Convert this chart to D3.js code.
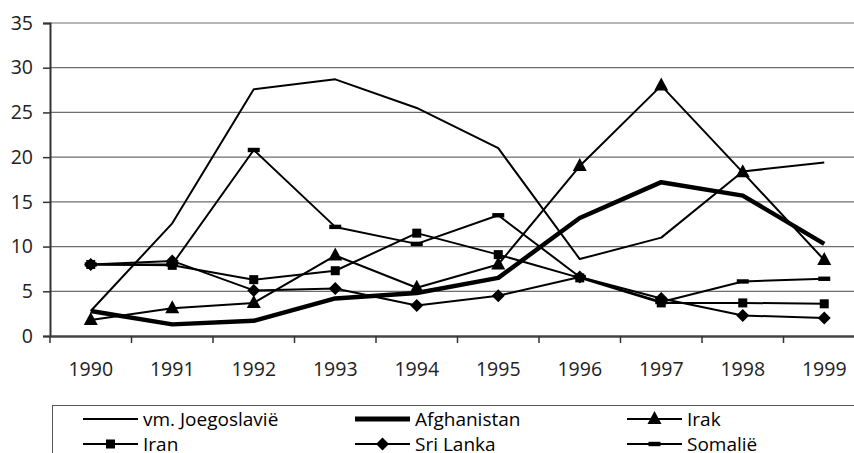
<!DOCTYPE html>
<html><head><meta charset="utf-8">
<script src="https://cdn.jsdelivr.net/npm/d3@7"></script>
<style>body{margin:0;background:#fff}svg{display:block}</style>
</head><body>
<svg id="c" width="854" height="453"></svg>
<script>
const years = ["1990","1991","1992","1993","1994","1995","1996","1997","1998","1999"];
const joegoslavie = [2.8, 12.6, 27.6, 28.7, 25.5, 21.0, 8.6, 11.0, 18.4, 19.4];
const afghanistan = [2.8, 1.3, 1.7, 4.2, 4.8, 6.5, 13.2, 17.2, 15.7, 10.3];
const irak = [1.8, 3.1, 3.7, 9.0, 5.4, 8.0, 19.0, 28.0, 18.3, 8.5];
const iran = [8.0, 7.9, 6.3, 7.3, 11.5, 9.1, 6.5, 3.7, 3.7, 3.6];
const sriLanka = [8.0, 8.4, 5.1, 5.3, 3.4, 4.5, 6.6, 4.2, 2.3, 2.0];
const somalie = [8.0, 8.0, 20.8, 12.2, 10.3, 13.5, 6.6, 3.8, 6.1, 6.4];
const yTicks = [0, 5, 10, 15, 20, 25, 30, 35];
const seriesNames = ["vm. Joegoslavië", "Afghanistan", "Irak", "Iran", "Sri Lanka", "Somalië"];

const series = [
  {name: seriesNames[0], values: joegoslavie, width: 2, marker: "none"},
  {name: seriesNames[1], values: afghanistan, width: 4.5, marker: "none"},
  {name: seriesNames[2], values: irak, width: 2, marker: "triangle"},
  {name: seriesNames[3], values: iran, width: 2, marker: "square"},
  {name: seriesNames[4], values: sriLanka, width: 2, marker: "diamond"},
  {name: seriesNames[5], values: somalie, width: 2, marker: "dash"}
];

const FONT = "'Open Sans', 'DejaVu Sans', sans-serif";
const svg = d3.select("#c");
const x = d3.scaleBand().domain(years).range([50, 865]).padding(0);
const y = d3.scaleLinear().domain([0, 35]).range([336, 23]);
const cx = d => x(d) + x.bandwidth() / 2;

// gridlines
svg.append("g").selectAll("line").data(yTicks.filter(t => t > 0)).join("line")
  .attr("x1", 50).attr("x2", 865).attr("y1", d => y(d)).attr("y2", d => y(d))
  .attr("stroke", "#6e6e6e").attr("stroke-width", 1.2);

// y axis
const yAxis = svg.append("g").attr("transform", "translate(50,0)")
  .call(d3.axisLeft(y).tickValues(yTicks).tickSize(7).tickPadding(10));
yAxis.select(".domain").attr("stroke", "#333").attr("stroke-width", 2);
yAxis.selectAll(".tick line").attr("stroke", "#333").attr("stroke-width", 1.5);
yAxis.selectAll("text").attr("font-family", FONT).attr("font-size", 19.5).attr("fill", "#222");

// x axis
const xAxis = svg.append("g").attr("transform", "translate(0,336)")
  .call(d3.axisBottom(x).tickSize(0).tickPadding(26));
xAxis.select(".domain").attr("stroke", "#444").attr("stroke-width", 2.5);
xAxis.selectAll("text").attr("font-family", FONT).attr("font-size", 19.5).attr("fill", "#222");
// tick marks at category boundaries
svg.append("g").selectAll("line").data(years).join("line")
  .attr("x1", d => x(d)).attr("x2", d => x(d)).attr("y1", 336).attr("y2", 343)
  .attr("stroke", "#333").attr("stroke-width", 1.5);

const line = d3.line().x((d, i) => cx(years[i])).y(d => y(d));

function drawMarker(g, type, px, py, scale) {
  const s = scale || 1;
  if (type === "triangle") {
    g.append("path").attr("d", `M${px},${py - 8 * s}L${px + 7 * s},${py + 5 * s}L${px - 7 * s},${py + 5 * s}Z`).attr("fill", "#000");
  } else if (type === "square") {
    g.append("rect").attr("x", px - 4.5 * s).attr("y", py - 4.5 * s).attr("width", 9 * s).attr("height", 9 * s).attr("fill", "#000");
  } else if (type === "diamond") {
    g.append("path").attr("d", `M${px},${py - 6.5 * s}L${px + 6.5 * s},${py}L${px},${py + 6.5 * s}L${px - 6.5 * s},${py}Z`).attr("fill", "#000");
  } else if (type === "dash") {
    g.append("rect").attr("x", px - 6 * s).attr("y", py - 2.2 * s).attr("width", 12 * s).attr("height", 4.4 * s).attr("fill", "#000");
  }
}

const plot = svg.append("g");
series.forEach(s => {
  plot.append("path").datum(s.values).attr("d", line)
    .attr("fill", "none").attr("stroke", "#000").attr("stroke-width", s.width)
    .attr("stroke-linejoin", "round");
  if (s.marker !== "none") {
    const mg = plot.append("g");
    s.values.forEach((v, i) => drawMarker(mg, s.marker, cx(years[i]), y(v)));
  }
});

// legend
const lg = svg.append("g");
lg.append("rect").attr("x", 52.5).attr("y", 405.5).attr("width", 840).attr("height", 80)
  .attr("fill", "#fff").attr("stroke", "#555").attr("stroke-width", 1);
const colX = [83, 355, 627];
const rowY = [419, 444];
series.forEach((s, i) => {
  const col = i % 3, row = Math.floor(i / 3);
  const x0 = colX[col], yy = rowY[row];
  lg.append("line").attr("x1", x0).attr("x2", x0 + 55).attr("y1", yy).attr("y2", yy)
    .attr("stroke", "#000").attr("stroke-width", s.width === 2 ? 2 : 5);
  drawMarker(lg, s.marker, x0 + 27.5, yy, 1);
  lg.append("text").attr("x", x0 + 60).attr("y", yy + 7)
    .attr("font-family", FONT).attr("font-size", 19).attr("fill", "#000")
    .text(s.name);
});
</script>
</body></html>
